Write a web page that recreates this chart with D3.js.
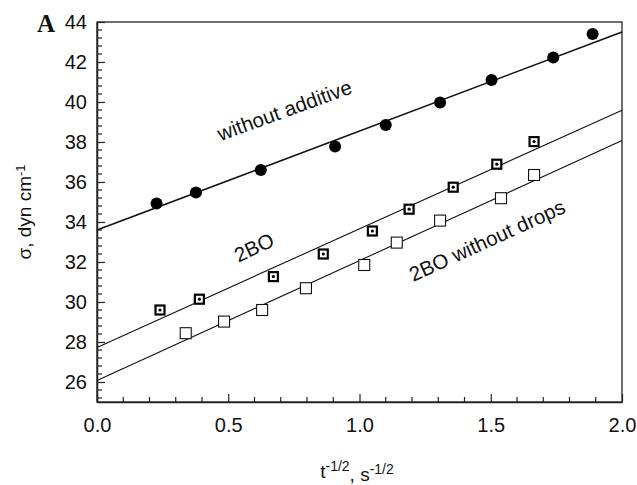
<!DOCTYPE html>
<html>
<head>
<meta charset="utf-8">
<script src="https://cdn.jsdelivr.net/npm/d3@7"></script>
<style>
  body { margin: 0; background: #fff; }
  text { font-family: "Liberation Sans", Arial, sans-serif; fill: #111; }
</style>
</head>
<body>
<svg id="chart" width="637" height="485"></svg>
<script>
// without additive (filled circles)
var xNoAdd = [0.227, 0.377, 0.624, 0.907, 1.100, 1.307, 1.503, 1.738, 1.888];
var yNoAdd = [34.93, 35.47, 36.60, 37.77, 38.85, 39.97, 41.10, 42.22, 43.40];
// 2BO (squares with dot)
var x2BO = [0.240, 0.390, 0.672, 0.862, 1.049, 1.189, 1.357, 1.523, 1.665];
var y2BO = [29.60, 30.14, 31.27, 32.40, 33.55, 34.64, 35.74, 36.89, 38.02];
// 2BO without drops (open squares)
var xNoDrops = [0.338, 0.484, 0.629, 0.796, 1.018, 1.142, 1.307, 1.539, 1.665];
var yNoDrops = [28.44, 29.02, 29.60, 30.69, 31.85, 32.97, 34.07, 35.19, 36.35];
// fitted straight lines: [intercept, slope]
var fitNoAdd = [33.60, 4.95];
var fit2BO = [27.73, 5.93];
var fitNoDrops = [26.07, 6.00];

var xTicks = [0.0, 0.5, 1.0, 1.5, 2.0];
var yTicks = [26, 28, 30, 32, 34, 36, 38, 40, 42, 44];

var svg = d3.select("#chart"),
    margin = {top: 22, right: 15, bottom: 83, left: 97},
    width = 525,
    height = 380;

var x = d3.scaleLinear().domain([0, 2]).range([0, width]),
    y = d3.scaleLinear().domain([25, 44]).range([height, 0]);

var g = svg.append("g").attr("transform", "translate(" + margin.left + "," + margin.top + ")");

// frame
g.append("rect")
    .attr("width", width).attr("height", height)
    .attr("fill", "none").attr("stroke", "#222").attr("stroke-width", 1.3);

// minor ticks
var xMinor = d3.range(0.1, 2, 0.1).filter(function(v) { return Math.abs(v * 2 - Math.round(v * 2)) > 1e-6; });
g.append("g").selectAll("line").data(xMinor).enter().append("line")
    .attr("x1", function(d) { return x(d); }).attr("x2", function(d) { return x(d); })
    .attr("y1", height).attr("y2", height - 5)
    .attr("stroke", "#222").attr("stroke-width", 1.2);
var yMinor = d3.range(25.2, 44, 0.4).filter(function(v) { return Math.abs(v / 2 - Math.round(v / 2)) > 1e-6; });
g.append("g").selectAll("line").data(yMinor).enter().append("line")
    .attr("x1", 0).attr("x2", 5)
    .attr("y1", function(d) { return y(d); }).attr("y2", function(d) { return y(d); })
    .attr("stroke", "#222").attr("stroke-width", 1.2);

var xAxis = g.append("g")
    .attr("transform", "translate(0," + height + ")")
    .call(d3.axisBottom(x).tickValues(xTicks).tickFormat(d3.format(".1f")).tickSizeInner(-8).tickSizeOuter(0).tickPadding(16));
var yAxis = g.append("g")
    .call(d3.axisLeft(y).tickValues(yTicks).tickFormat(d3.format("d")).tickSizeInner(-8).tickSizeOuter(0).tickPadding(10));
[xAxis, yAxis].forEach(function(a) {
    a.select(".domain").attr("stroke", "#222").attr("stroke-width", 1.5);
    a.selectAll(".tick line").attr("stroke", "#222").attr("stroke-width", 1.2);
    a.selectAll("text").style("font-size", "20px").attr("fill", "#111");
});

// fit lines
function fitLine(f, w) {
    g.append("line")
        .attr("x1", x(0)).attr("y1", y(f[0]))
        .attr("x2", x(2)).attr("y2", y(f[0] + f[1] * 2))
        .attr("stroke", "#111").attr("stroke-width", w);
}
fitLine(fitNoAdd, 1.6);
fitLine(fit2BO, 1.1);
fitLine(fitNoDrops, 1.1);

// markers
g.selectAll(".c").data(d3.zip(xNoAdd, yNoAdd)).enter().append("circle")
    .attr("cx", function(d) { return x(d[0]); }).attr("cy", function(d) { return y(d[1]); })
    .attr("r", 6).attr("fill", "#000");

g.selectAll(".s2").data(d3.zip(x2BO, y2BO)).enter().append("rect")
    .attr("x", function(d) { return x(d[0]) - 4.5; }).attr("y", function(d) { return y(d[1]) - 4.5; })
    .attr("width", 9).attr("height", 9)
    .attr("fill", "#fff").attr("stroke", "#000").attr("stroke-width", 2.2);
g.selectAll(".d2").data(d3.zip(x2BO, y2BO)).enter().append("circle")
    .attr("cx", function(d) { return x(d[0]); }).attr("cy", function(d) { return y(d[1]); })
    .attr("r", 1.6).attr("fill", "#000");

g.selectAll(".s3").data(d3.zip(xNoDrops, yNoDrops)).enter().append("rect")
    .attr("x", function(d) { return x(d[0]) - 5.5; }).attr("y", function(d) { return y(d[1]) - 5.5; })
    .attr("width", 11).attr("height", 11)
    .attr("fill", "#fff").attr("stroke", "#111").attr("stroke-width", 1.1);

// series labels
function seriesLabel(txt, cx, cy, ang) {
    svg.append("text")
        .attr("transform", "translate(" + cx + "," + cy + ") rotate(" + ang + ")")
        .attr("text-anchor", "middle")
        .style("font-size", "20.5px")
        .text(txt);
}
seriesLabel("without additive", 287, 117, -20);
seriesLabel("2BO", 257, 254, -25);
seriesLabel("2BO without drops", 490, 247, -24.5);

// axis titles
var yl = svg.append("text")
    .attr("transform", "translate(31,212) rotate(-90)")
    .attr("text-anchor", "middle")
    .style("font-size", "19px");
yl.append("tspan").text("σ, dyn cm");
yl.append("tspan").attr("dy", "-0.45em").style("font-size", "13px").text("-1");

var xl = svg.append("text")
    .attr("x", 357).attr("y", 478)
    .attr("text-anchor", "middle")
    .style("font-size", "19px");
xl.append("tspan").text("t");
xl.append("tspan").attr("dy", "-0.5em").style("font-size", "14px").text("-1/2");
xl.append("tspan").attr("dy", "0.5em").text(", s");
xl.append("tspan").attr("dy", "-0.5em").style("font-size", "14px").text("-1/2");

svg.append("text")
    .attr("x", 37).attr("y", 32)
    .style("font-family", "'Liberation Serif', 'Times New Roman', serif")
    .style("font-weight", "bold")
    .style("font-size", "25px")
    .text("A");
</script>
</body>
</html>
